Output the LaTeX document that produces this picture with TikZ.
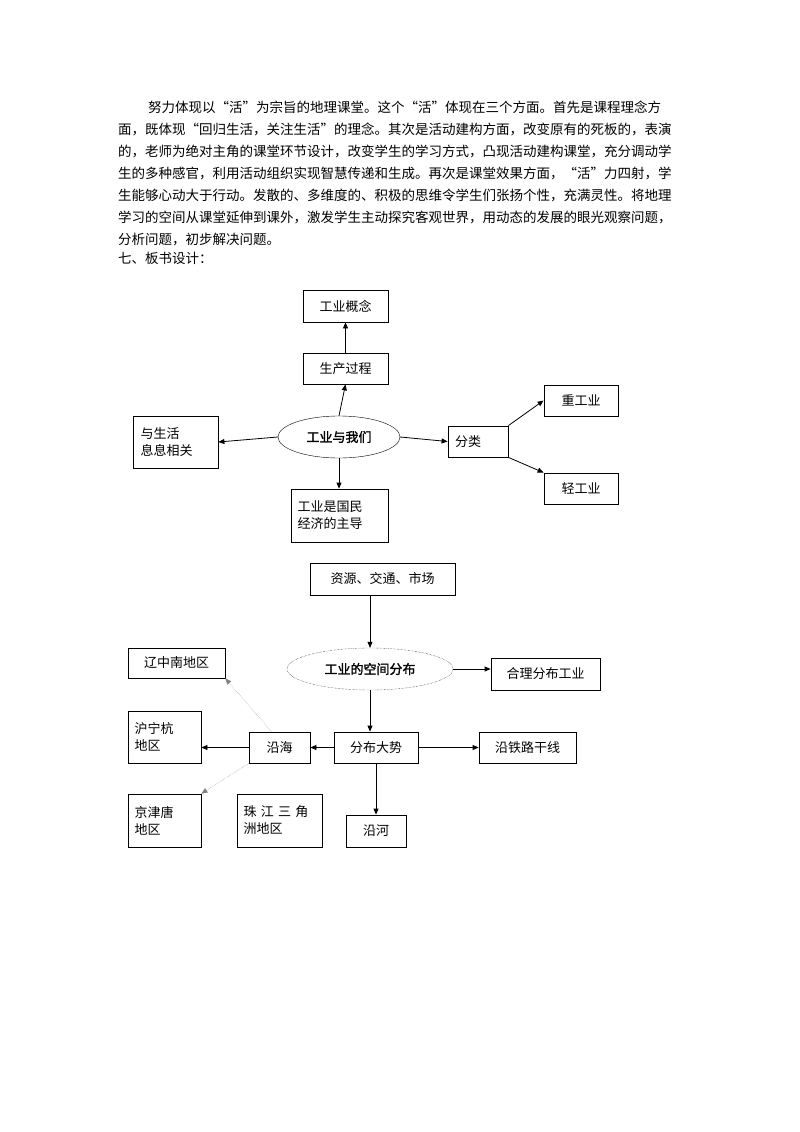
\documentclass[tikz,border=0pt]{standalone}
\usepackage{fontspec}
\setmainfont{Noto Sans CJK SC}
\newfontfamily\cjkb[FakeBold=1.5]{Noto Sans CJK SC}
\XeTeXlinebreaklocale "zh"
\XeTeXlinebreakskip=0pt plus 2pt
\usetikzlibrary{arrows.meta,shapes.geometric}
\begin{document}
\begin{tikzpicture}[x=1pt,y=-1pt,
  bx/.style={draw,thick,minimum width=#1,inner sep=0pt,font=\fontsize{13}{17}\selectfont},
  bx/.default=60pt,
  el/.style={draw,ellipse,inner sep=0pt,font=\cjkb\fontsize{13}{16}\selectfont},
  ar/.style={-{Triangle[length=6pt,width=5pt]},thick},
  dar/.style={-{Triangle[length=6pt,width=5pt]},gray,densely dotted},
  tl/.style={anchor=base west,inner sep=0pt,font=\fontsize{13.5}{16}\selectfont}]
\useasboundingbox (0,0) rectangle (800,1132);
\fill[white] (0,0) rectangle (800,1132);
\node[tl] (l1) at (148,112) {\makebox[542pt][s]{努力体现以“活”为宗旨的地理课堂。这个“活”体现在三个方面。首先是课程理念方}};
\node[tl] (l2) at (118,134) {\makebox[572pt][s]{面，既体现“回归生活，关注生活”的理念。其次是活动建构方面，改变原有的死板的，表演}};
\node[tl] (l3) at (118,156) {\makebox[572pt][s]{的，老师为绝对主角的课堂环节设计，改变学生的学习方式，凸现活动建构课堂，充分调动学}};
\node[tl] (l4) at (118,178) {\makebox[572pt][s]{生的多种感官，利用活动组织实现智慧传递和生成。再次是课堂效果方面，“活”力四射，学}};
\node[tl] (l5) at (118,200) {\makebox[572pt][s]{生能够心动大于行动。发散的、多维度的、积极的思维令学生们张扬个性，充满灵性。将地理}};
\node[tl] (l6) at (118,222) {\makebox[572pt][s]{学习的空间从课堂延伸到课外，激发学生主动探究客观世界，用动态的发展的眼光观察问题，}};
\node[tl] (l7) at (118,244) {分析问题，初步解决问题。};
\node[tl] (l8) at (118,263) {七、板书设计：};
% diagram 1
\node[bx=85pt,minimum height=32pt] (gn) at (345.5,306) {工业概念};
\node[bx=85pt,minimum height=31pt] (sc) at (345.5,368.5) {生产过程};
\node[el,minimum width=122pt,minimum height=42pt] (e1) at (339,437) {工业与我们};
\node[bx=85pt,minimum height=52pt,align=left,text width=70pt] (ys) at (175.5,442) {与生活\\息息相关};
\node[bx=97pt,minimum height=53pt,align=left,text width=84pt] (gm) at (339.5,515.5) {工业是国民\\经济的主导};
\node[bx=60pt,minimum height=31pt,align=left,text width=46pt] (fl) at (478,441.5) {分类};
\node[bx=74pt,minimum height=31pt] (zg) at (581,400.5) {重工业};
\node[bx=74pt,minimum height=31pt] (qg) at (581,488.5) {轻工业};
\draw[ar] (e1.north) -- (sc.south);
\draw[ar] (sc.north) -- (gn.south);
\draw[ar] (e1.west) -- (ys.east);
\draw[ar] (e1.south) -- (e1.south|-gm.north);
\draw[ar] (e1.east) -- (fl.west);
\draw[ar] (fl.north east) -- (zg.west);
\draw[ar] (fl.south east) -- (qg.north west);
% diagram 2
\node[bx=145pt,minimum height=32pt] (zy) at (382.5,579) {资源、交通、市场};
\node[el,minimum width=166pt,minimum height=42pt,densely dotted] (e2) at (370,669) {工业的空间分布};
\node[bx=109pt,minimum height=32pt] (hl) at (545.5,674) {合理分布工业};
\node[bx=97pt,minimum height=30pt] (lz) at (176.5,663) {辽中南地区};
\node[bx=73pt,minimum height=52pt,align=left,text width=60pt] (hn) at (164.5,737) {沪宁杭\\地区};
\node[bx=61pt,minimum height=31pt] (yh) at (279.5,747.5) {沿海};
\node[bx=84pt,minimum height=31pt] (fb) at (376,747.5) {分布大势};
\node[bx=97pt,minimum height=31pt] (tl) at (527.5,747.5) {沿铁路干线};
\node[bx=73pt,minimum height=53pt,align=left,text width=60pt] (jj) at (164.5,820.5) {京津唐\\地区};
\node[bx=85pt,minimum height=53pt,align=left,text width=72pt] (zj) at (279.5,820.5) {珠 江 三 角\\洲地区};
\node[bx=60pt,minimum height=32pt] (yhe) at (376,831) {沿河};
\draw[ar] (zy.south-|e2.north) -- (e2.north);
\draw[ar] (e2.east) -- (hl.west|-e2.east);
\draw[ar] (e2.south) -- (e2.south|-fb.north);
\draw[ar] (fb.west) -- (yh.east);
\draw[ar] (fb.east) -- (tl.west);
\draw[ar] (fb.south-|yhe.north) -- (yhe.north);
\draw[ar] (yh.west) -- (hn.east|-yh.west);
\draw[dar] ([xshift=-8pt]yh.north) -- (lz.south east);
\draw[dar] (yh.south west) -- (jj.north east);
\end{tikzpicture}
\end{document}
